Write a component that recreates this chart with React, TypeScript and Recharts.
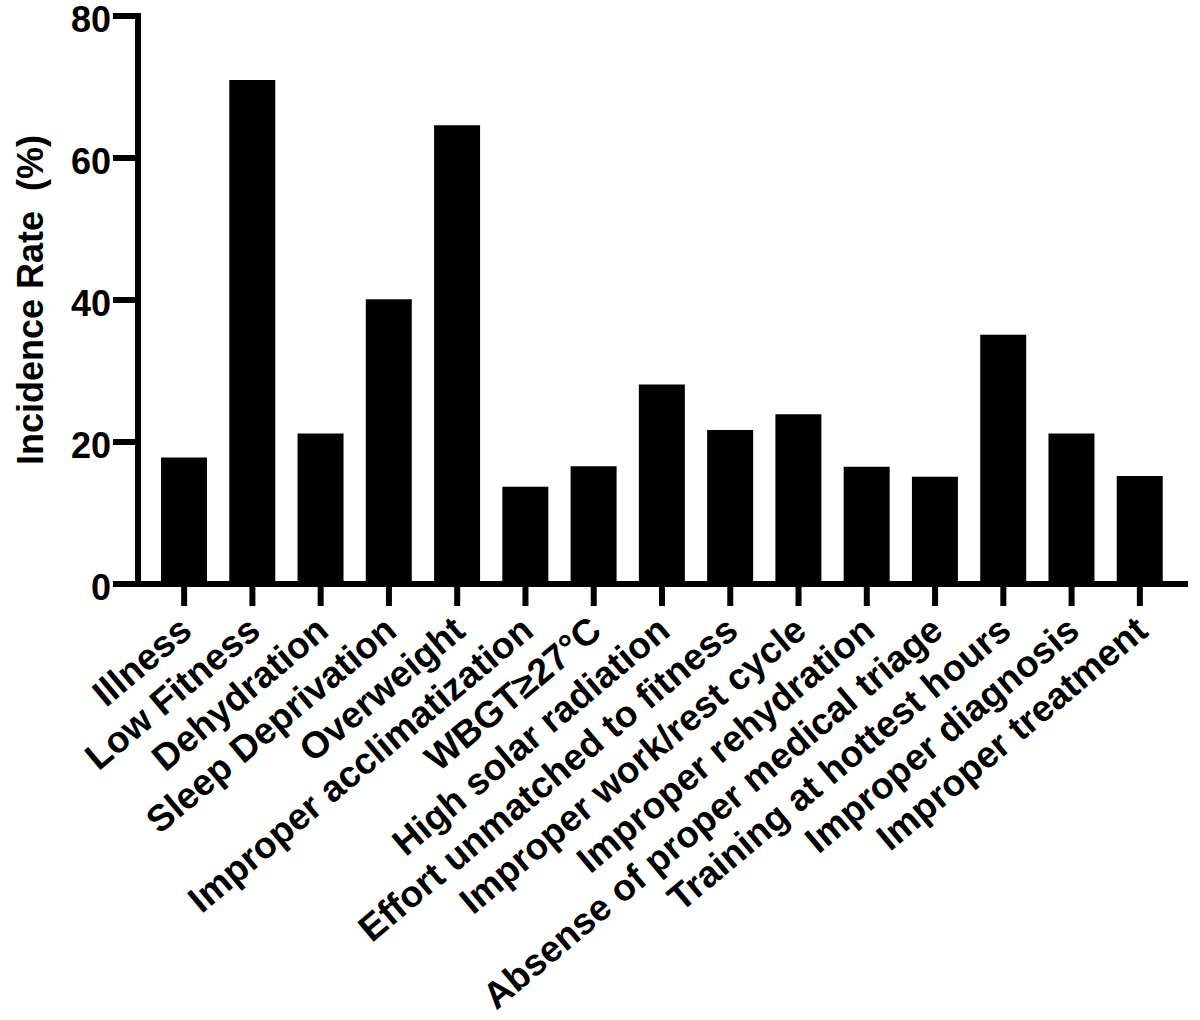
import React from 'react'
import { BarChart, Bar, XAxis, YAxis, Label } from 'recharts'

const categories = [
  'Illness',
  'Low Fitness',
  'Dehydration',
  'Sleep Deprivation',
  'Overweight',
  'Improper acclimatization',
  'WBGT≥27°C',
  'High solar radiation',
  'Effort unmatched to fitness',
  'Improper work/rest cycle',
  'Improper rehydration',
  'Absense of proper medical triage',
  'Training at hottest hours',
  'Improper diagnosis',
  'Improper treatment',
]
const incidence = [17.8, 71.0, 21.2, 40.1, 64.6, 13.7, 16.6, 28.1, 21.7, 23.9, 16.5, 15.1, 35.1, 21.2, 15.2]
const yTicks = [0, 20, 40, 60, 80]

const FONT = '"Liberation Sans", Arial, Helvetica, sans-serif'

const data = categories.map((name, i) => ({ name, rate: incidence[i] }))

function XTick({ x, y, payload }: any) {
  return (
    <g transform={`translate(${x + 10},${y + 26})`}>
      <text textAnchor="end" transform="rotate(-40)" fontSize={37} fontWeight="bold" fontFamily={FONT} fill="#000">
        {payload.value}
      </text>
    </g>
  )
}

function YTick({ x, y, payload }: any) {
  return (
    <text
      x={x}
      y={y + 3}
      textAnchor="end"
      dominantBaseline="central"
      fontSize={36}
      fontWeight="bold"
      fontFamily={FONT}
      fill="#000"
    >
      {payload.value}
    </text>
  )
}

function YTitle({ viewBox }: any) {
  const cy = viewBox ? viewBox.y + viewBox.height / 2 : 300
  return (
    <text
      x={30}
      y={cy}
      transform={`rotate(-90, 30, ${cy})`}
      textAnchor="middle"
      dominantBaseline="central"
      fontSize={36}
      fontWeight="bold"
      fontFamily={FONT}
      fill="#000"
      style={{ whiteSpace: 'pre' }}
    >
      {'Incidence Rate  (%)'}
    </text>
  )
}

export default function App() {
  return (
    <div style={{ width: 1200, height: 1020, background: '#fff' }}>
      <style>{'body{margin:0}'}</style>
      <BarChart
        width={1200}
        height={1020}
        data={data}
        margin={{ top: 16, right: 15, left: 0, bottom: 0 }}
        barCategoryGap={11}
      >
        <XAxis
          dataKey="name"
          interval={0}
          height={436}
          padding={{ left: 12, right: 11 }}
          tickSize={22}
          axisLine={{ stroke: '#000', strokeWidth: 6, strokeLinecap: 'square' }}
          tickLine={{ stroke: '#000', strokeWidth: 6 }}
          tick={<XTick />}
        />
        <YAxis
          width={138}
          domain={[0, 80]}
          ticks={yTicks}
          interval={0}
          tickSize={25}
          axisLine={{ stroke: '#000', strokeWidth: 6, strokeLinecap: 'square' }}
          tickLine={{ stroke: '#000', strokeWidth: 6 }}
          tick={<YTick />}
        >
          <Label content={<YTitle />} />
        </YAxis>
        <Bar dataKey="rate" fill="#000" isAnimationActive={false} />
      </BarChart>
    </div>
  )
}
